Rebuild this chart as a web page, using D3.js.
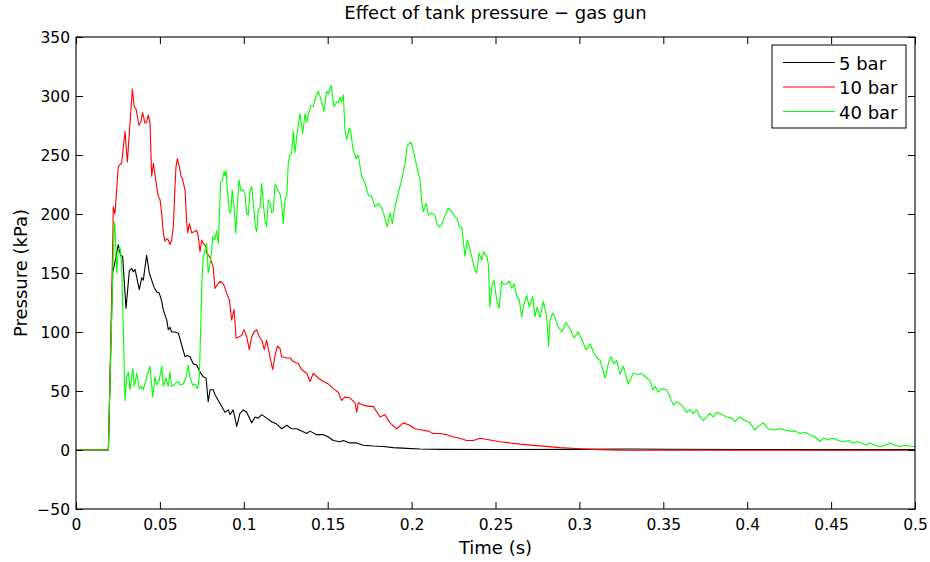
<!DOCTYPE html>
<html>
<head>
<meta charset="utf-8">
<script src="https://cdn.jsdelivr.net/npm/d3@7"></script>
<style>
  html, body { margin: 0; padding: 0; background: #fff; }
  svg { display: block; font-family: "DejaVu Sans", "Liberation Sans", Arial, sans-serif; }
</style>
</head>
<body>
<svg id="chart" width="930" height="562"></svg>
<script>
// ---------------- DATA ----------------
const chartTitle = "Effect of tank pressure \u2212 gas gun";
const xLabel = "Time (s)";
const yLabel = "Pressure (kPa)";
const seriesNames = ["5 bar", "10 bar", "40 bar"];
const seriesColors = ["#000000", "#ff0000", "#00ff00"];
const xTicks = [0, 0.05, 0.1, 0.15, 0.2, 0.25, 0.3, 0.35, 0.4, 0.45, 0.5];
const xTickLabels = ["0", "0.05", "0.1", "0.15", "0.2", "0.25", "0.3", "0.35", "0.4", "0.45", "0.5"];
const yTicks = [-50, 0, 50, 100, 150, 200, 250, 300, 350];
const yTickLabels = ["\u221250", "0", "50", "100", "150", "200", "250", "300", "350"];

// 5 bar (black)
const time5 = [0, 0.0193, 0.0219, 0.0222, 0.0252, 0.0266, 0.0278, 0.0298, 0.0318, 0.0332, 0.0341, 0.0352,
  0.0377, 0.0392, 0.0401, 0.0421, 0.0437, 0.0451, 0.0465, 0.0481, 0.0496, 0.0511, 0.0520, 0.0541, 0.0550,
  0.0560, 0.0570, 0.0590, 0.0610, 0.0630, 0.0650, 0.0663, 0.0679, 0.0699, 0.0719, 0.0739, 0.0759, 0.0775,
  0.0788, 0.0799, 0.0818, 0.0828, 0.0848, 0.0868, 0.0888, 0.0908, 0.0918, 0.0937, 0.0958, 0.0977, 0.0997,
  0.1017, 0.1047, 0.1067, 0.1086, 0.1107, 0.1136, 0.1166, 0.1196, 0.1226, 0.1256, 0.1285, 0.1315, 0.1345,
  0.1375, 0.1395, 0.1434, 0.1474, 0.1504, 0.1533, 0.1573, 0.1593, 0.1633, 0.1673, 0.1712, 0.1772, 0.1831,
  0.1891, 0.1971, 0.2050, 0.2169, 0.25, 0.3, 0.33, 0.35, 0.4, 0.45, 0.5];
const p5 = [0, 0, 154, 152, 174, 165, 164, 120, 152, 154, 151, 153,
  136, 146, 144, 165, 150, 144, 138, 134, 133, 126, 119, 110, 102,
  104, 100, 100, 99, 89, 79, 80, 79, 73, 72, 66, 62, 61,
  41, 51, 51, 47, 42, 37, 32, 34, 30, 34, 20, 31, 34,
  32, 23, 28, 27, 30, 27, 24, 22, 18, 21, 18, 18, 16,
  14, 16, 13, 13, 11, 8, 7, 8, 6, 6, 4, 3.4, 3,
  2, 1.4, 0.8, 0.5, 0.4, 0.5, 0.9, 0.6, 0.4, 0.3, 0.3];

// 10 bar (red)
const time10 = [0, 0.0193, 0.0219, 0.0222, 0.0232, 0.0252, 0.0262, 0.0272, 0.0292, 0.0306, 0.0322, 0.0336,
  0.0347, 0.0358, 0.0375, 0.0386, 0.0397, 0.0411, 0.0421, 0.0431, 0.0441, 0.0451, 0.0461, 0.0471, 0.0481,
  0.0490, 0.0501, 0.0511, 0.0520, 0.0530, 0.0541, 0.0550, 0.0560, 0.0570, 0.0580, 0.0590, 0.0596, 0.0604,
  0.0616, 0.0626, 0.0636, 0.0650, 0.0660, 0.0666, 0.0675, 0.0690, 0.0703, 0.0719, 0.0729, 0.0739, 0.0749,
  0.0759, 0.0769, 0.0779, 0.0799, 0.0818, 0.0828, 0.0842, 0.0858, 0.0878, 0.0898, 0.0914, 0.0928, 0.0942,
  0.0954, 0.0973, 0.0987, 0.1001, 0.1017, 0.1033, 0.1047, 0.1061, 0.1077, 0.1092, 0.1107, 0.1122, 0.1136,
  0.1156, 0.1172, 0.1186, 0.1200, 0.1216, 0.1226, 0.1256, 0.1275, 0.1295, 0.1325, 0.1345, 0.1375, 0.1395,
  0.1414, 0.1444, 0.1474, 0.1504, 0.1533, 0.1563, 0.1583, 0.1603, 0.1633, 0.1663, 0.1673, 0.1682, 0.1712,
  0.1742, 0.1772, 0.1812, 0.1841, 0.1871, 0.1911, 0.1951, 0.1990, 0.2020, 0.2060, 0.2100, 0.2129, 0.2169,
  0.2209, 0.2249, 0.2288, 0.2328, 0.2368, 0.2408, 0.2527, 0.2646, 0.2765, 0.2884, 0.3004, 0.3123, 0.325,
  0.4, 0.5];
const p10 = [0, 0, 175, 206, 200, 240, 242, 243, 270, 244, 277, 306,
  291, 289, 275, 278, 286, 277, 278, 284, 277, 232, 243, 233, 223,
  215, 212, 200, 184, 177, 179, 178, 174, 178, 189, 223, 240, 247,
  240, 232, 229, 220, 192, 184, 192, 184, 185, 186, 181, 168, 178,
  175, 174, 167, 163, 155, 137, 140, 143, 141, 133, 127, 110, 119,
  95, 96, 97, 102, 96, 85, 96, 100, 102, 96, 93, 85, 93,
  79, 68, 80, 88, 86, 79, 78, 78, 75, 73, 68, 65, 58,
  65, 61, 58, 56, 52, 49, 42, 45, 44, 40, 32, 40, 38,
  37, 37, 28, 30, 23, 18, 23, 21, 18, 17, 16, 14, 14,
  13, 11, 10, 8, 8, 10, 7, 5, 3.5, 2, 1, 0.3, -0.2,
  -0.2, -0.2];

// 40 bar (green)
const time40 = [0, 0.0193, 0.0219, 0.0228, 0.0232, 0.0243, 0.0252, 0.0262, 0.0272, 0.0282, 0.0292, 0.0302,
  0.0312, 0.0322, 0.0338, 0.0347, 0.0362, 0.0377, 0.0392, 0.0401, 0.0421, 0.0441, 0.0457, 0.0471, 0.0481,
  0.0496, 0.0511, 0.0520, 0.0536, 0.0550, 0.0560, 0.0570, 0.0590, 0.0610, 0.0620, 0.0639, 0.0656, 0.0669,
  0.0679, 0.0695, 0.0709, 0.0725, 0.0735, 0.0743, 0.0751, 0.0759, 0.0769, 0.0779, 0.0788, 0.0799, 0.0809,
  0.0815, 0.0828, 0.0838, 0.0848, 0.0862, 0.0874, 0.0882, 0.0888, 0.0894, 0.0902, 0.0914, 0.0922, 0.0931,
  0.0942, 0.0952, 0.0961, 0.0971, 0.0983, 0.0997, 0.1007, 0.1017, 0.1027, 0.1037, 0.1047, 0.1057, 0.1069,
  0.1077, 0.1086, 0.1097, 0.1107, 0.1116, 0.1126, 0.1136, 0.1146, 0.1156, 0.1166, 0.1176, 0.1186, 0.1196,
  0.1206, 0.1216, 0.1226, 0.1235, 0.1246, 0.1256, 0.1265, 0.1275, 0.1285, 0.1295, 0.1305, 0.1319, 0.1335,
  0.1351, 0.1365, 0.1375, 0.1384, 0.1400, 0.1414, 0.1424, 0.1444, 0.1458, 0.1478, 0.1494, 0.1504, 0.1520,
  0.1538, 0.1554, 0.1563, 0.1573, 0.1583, 0.1593, 0.1603, 0.1613, 0.1629, 0.1637, 0.1649, 0.1669, 0.1682,
  0.1703, 0.1722, 0.1742, 0.1762, 0.1782, 0.1802, 0.1822, 0.1836, 0.1855, 0.1871, 0.1885, 0.1901, 0.1921,
  0.1941, 0.1961, 0.1974, 0.1995, 0.2010, 0.2030, 0.2050, 0.2060, 0.2070, 0.2086, 0.2100, 0.2120, 0.2139,
  0.2153, 0.2165, 0.2179, 0.2199, 0.2219, 0.2239, 0.2259, 0.2272, 0.2284, 0.2299, 0.2318, 0.2332, 0.2344,
  0.2358, 0.2372, 0.2388, 0.2402, 0.2418, 0.2431, 0.2448, 0.2457, 0.2467, 0.2477, 0.2491, 0.2507, 0.2521,
  0.2537, 0.2551, 0.2567, 0.2582, 0.2597, 0.2610, 0.2626, 0.2642, 0.2656, 0.2670, 0.2686, 0.2701, 0.2722,
  0.2735, 0.2749, 0.2765, 0.2785, 0.2805, 0.2816, 0.2825, 0.2841, 0.2855, 0.2872, 0.2896, 0.2920, 0.2944,
  0.2968, 0.2992, 0.3016, 0.3039, 0.3063, 0.3087, 0.3105, 0.3123, 0.3133, 0.3153, 0.3172, 0.3188, 0.3206,
  0.3222, 0.3242, 0.3262, 0.3291, 0.3321, 0.3351, 0.3371, 0.3401, 0.3421, 0.3437, 0.3451, 0.3470, 0.3490,
  0.3520, 0.3540, 0.3560, 0.3580, 0.3610, 0.3639, 0.3659, 0.3679, 0.3699, 0.3719, 0.3738, 0.3759, 0.3778,
  0.3798, 0.3818, 0.3848, 0.3878, 0.3908, 0.3927, 0.3957, 0.3987, 0.4017, 0.4046, 0.4066, 0.4096, 0.4126,
  0.4156, 0.4195, 0.4225, 0.4255, 0.4285, 0.4315, 0.4345, 0.4374, 0.4404, 0.4434, 0.4454, 0.4483, 0.4513,
  0.4543, 0.4573, 0.4603, 0.4632, 0.4653, 0.4682, 0.4712, 0.4732, 0.4762, 0.4791, 0.4821, 0.4851, 0.4881,
  0.4911, 0.4940, 0.4970, 0.5000];
const p40 = [0, 0, 150, 193, 190, 150, 169, 172, 158, 102, 42, 62,
  66, 51, 69, 54, 65, 52, 54, 51, 62, 71, 45, 62, 55,
  59, 71, 54, 61, 54, 66, 54, 56, 58, 55, 56, 62, 72,
  62, 55, 56, 52, 62, 102, 144, 164, 169, 175, 150, 158, 169,
  181, 178, 186, 175, 227, 229, 236, 232, 237, 220, 203, 201, 220,
  206, 184, 206, 229, 220, 220, 217, 201, 199, 220, 223, 209, 189,
  185, 203, 206, 226, 209, 195, 189, 212, 210, 201, 203, 225, 223,
  219, 217, 208, 192, 212, 215, 243, 251, 251, 270, 252, 270, 285,
  268, 285, 278, 284, 292, 291, 297, 304, 298, 287, 304, 302, 309,
  291, 295, 294, 299, 295, 301, 271, 263, 273, 271, 256, 247, 250,
  232, 226, 216, 215, 206, 209, 205, 199, 189, 201, 192, 206, 218,
  229, 243, 258, 261, 254, 241, 229, 211, 202, 209, 199, 201, 199,
  191, 189, 191, 199, 205, 202, 198, 196, 189, 189, 164, 178, 172,
  164, 155, 150, 167, 161, 168, 164, 158, 121, 138, 144, 127, 120,
  143, 140, 141, 143, 137, 141, 131, 127, 113, 124, 131, 121, 130,
  113, 121, 112, 126, 113, 88, 110, 116, 112, 105, 100, 108, 103,
  95, 100, 93, 85, 90, 82, 78, 76, 71, 61, 73, 79, 73,
  76, 64, 71, 56, 65, 64, 65, 61, 59, 51, 54, 49, 52,
  51, 45, 38, 41, 38, 32, 34, 31, 34, 28, 25, 28, 31,
  28, 32, 30, 28, 27, 24, 28, 25, 23, 17, 20, 23, 18,
  17, 18, 17, 16, 16, 14, 15, 13, 11, 7, 10, 9, 10,
  8, 7, 8, 6, 7, 6, 4, 6, 4, 3, 4, 6, 4,
  3, 4, 3.4, 3];

const seriesTimes = [time5, time10, time40];
const seriesValues = [p5, p10, p40];

// ---------------- CHART ----------------
const svg = d3.select("#chart");
const W = 930, H = 562;
const margin = { left: 76, right: 15, top: 37, bottom: 53 };
const x = d3.scaleLinear().domain([0, 0.5]).range([margin.left, W - margin.right]);
const y = d3.scaleLinear().domain([-50, 350]).range([H - margin.bottom, margin.top]);

svg.append("rect").attr("width", W).attr("height", H).attr("fill", "#fff");

const fontFamily = '"DejaVu Sans", "Liberation Sans", Arial, sans-serif';
const tickFont = 15.5;
const labelFont = 18;

svg.append("defs").append("clipPath").attr("id", "plotclip")
  .append("rect")
  .attr("x", x(0)).attr("y", y(350))
  .attr("width", x(0.5) - x(0)).attr("height", y(-50) - y(350));

// Data lines
const plot = svg.append("g").attr("clip-path", "url(#plotclip)");
seriesNames.forEach((name, i) => {
  const pts = seriesTimes[i].map((t, j) => [t, seriesValues[i][j]]);
  const line = d3.line().x(d => x(d[0])).y(d => y(d[1]));
  plot.append("path")
    .datum(pts)
    .attr("d", line)
    .attr("fill", "none")
    .attr("stroke", seriesColors[i])
    .attr("stroke-width", 1.1)
    .attr("stroke-linejoin", "round");
});

// Axes
const tickLen = 7;
const xAxisB = d3.axisBottom(x).tickValues(xTicks)
  .tickFormat((d, i) => xTickLabels[i]).tickSizeInner(-tickLen).tickSizeOuter(0).tickPadding(9.5);
const xAxisT = d3.axisTop(x).tickValues(xTicks).tickFormat("").tickSizeInner(-tickLen).tickSizeOuter(0);
const yAxisL = d3.axisLeft(y).tickValues(yTicks)
  .tickFormat((d, i) => yTickLabels[i]).tickSizeInner(-tickLen).tickSizeOuter(0).tickPadding(6);
const yAxisR = d3.axisRight(y).tickValues(yTicks).tickFormat("").tickSizeInner(-tickLen).tickSizeOuter(0);

function styleAxis(g) {
  g.select(".domain").remove();
  g.selectAll(".tick line").attr("stroke", "#000").attr("stroke-width", 1);
  g.selectAll(".tick text").attr("fill", "#000")
    .style("font-size", tickFont + "px")
    .style("font-family", fontFamily);
}

svg.append("g").attr("transform", `translate(0,${y(-50)})`).call(xAxisB).call(styleAxis);
svg.append("g").attr("transform", `translate(0,${y(350)})`).call(xAxisT).call(styleAxis);
svg.append("g").attr("transform", `translate(${x(0)},0)`).call(yAxisL).call(styleAxis)
  .selectAll(".tick text").attr("dy", "0.36em");
svg.append("g").attr("transform", `translate(${x(0.5)},0)`).call(yAxisR).call(styleAxis);

// Box
svg.append("rect")
  .attr("x", x(0)).attr("y", y(350))
  .attr("width", x(0.5) - x(0)).attr("height", y(-50) - y(350))
  .attr("fill", "none").attr("stroke", "#000").attr("stroke-width", 1.1);

// Title & labels
svg.append("text")
  .attr("x", (x(0) + x(0.5)) / 2).attr("y", 19)
  .attr("text-anchor", "middle")
  .style("font-size", labelFont + "px")
  .style("font-family", fontFamily)
  .text(chartTitle);

svg.append("text")
  .attr("x", (x(0) + x(0.5)) / 2).attr("y", 554)
  .attr("text-anchor", "middle")
  .style("font-size", labelFont + "px")
  .style("font-family", fontFamily)
  .text(xLabel);

svg.append("text")
  .attr("transform", `translate(27,${(y(-50) + y(350)) / 2}) rotate(-90)`)
  .attr("text-anchor", "middle")
  .style("font-size", labelFont + "px")
  .style("font-family", fontFamily)
  .text(yLabel);

// Legend
const lg = svg.append("g");
const lgX = 772, lgY = 45, lgW = 134, lgH = 83;
lg.append("rect").attr("x", lgX).attr("y", lgY).attr("width", lgW).attr("height", lgH)
  .attr("fill", "#fff").attr("stroke", "#000").attr("stroke-width", 1);
const rowY = [62.5, 87, 111.5];
seriesNames.forEach((name, i) => {
  lg.append("line")
    .attr("x1", 783).attr("x2", 835)
    .attr("y1", rowY[i]).attr("y2", rowY[i])
    .attr("stroke", seriesColors[i]).attr("stroke-width", 1.1);
  lg.append("text")
    .attr("x", 839).attr("y", rowY[i])
    .attr("dy", "0.4em")
    .style("font-size", labelFont + "px")
    .style("font-family", fontFamily)
    .text(name);
});
</script>
</body>
</html>
